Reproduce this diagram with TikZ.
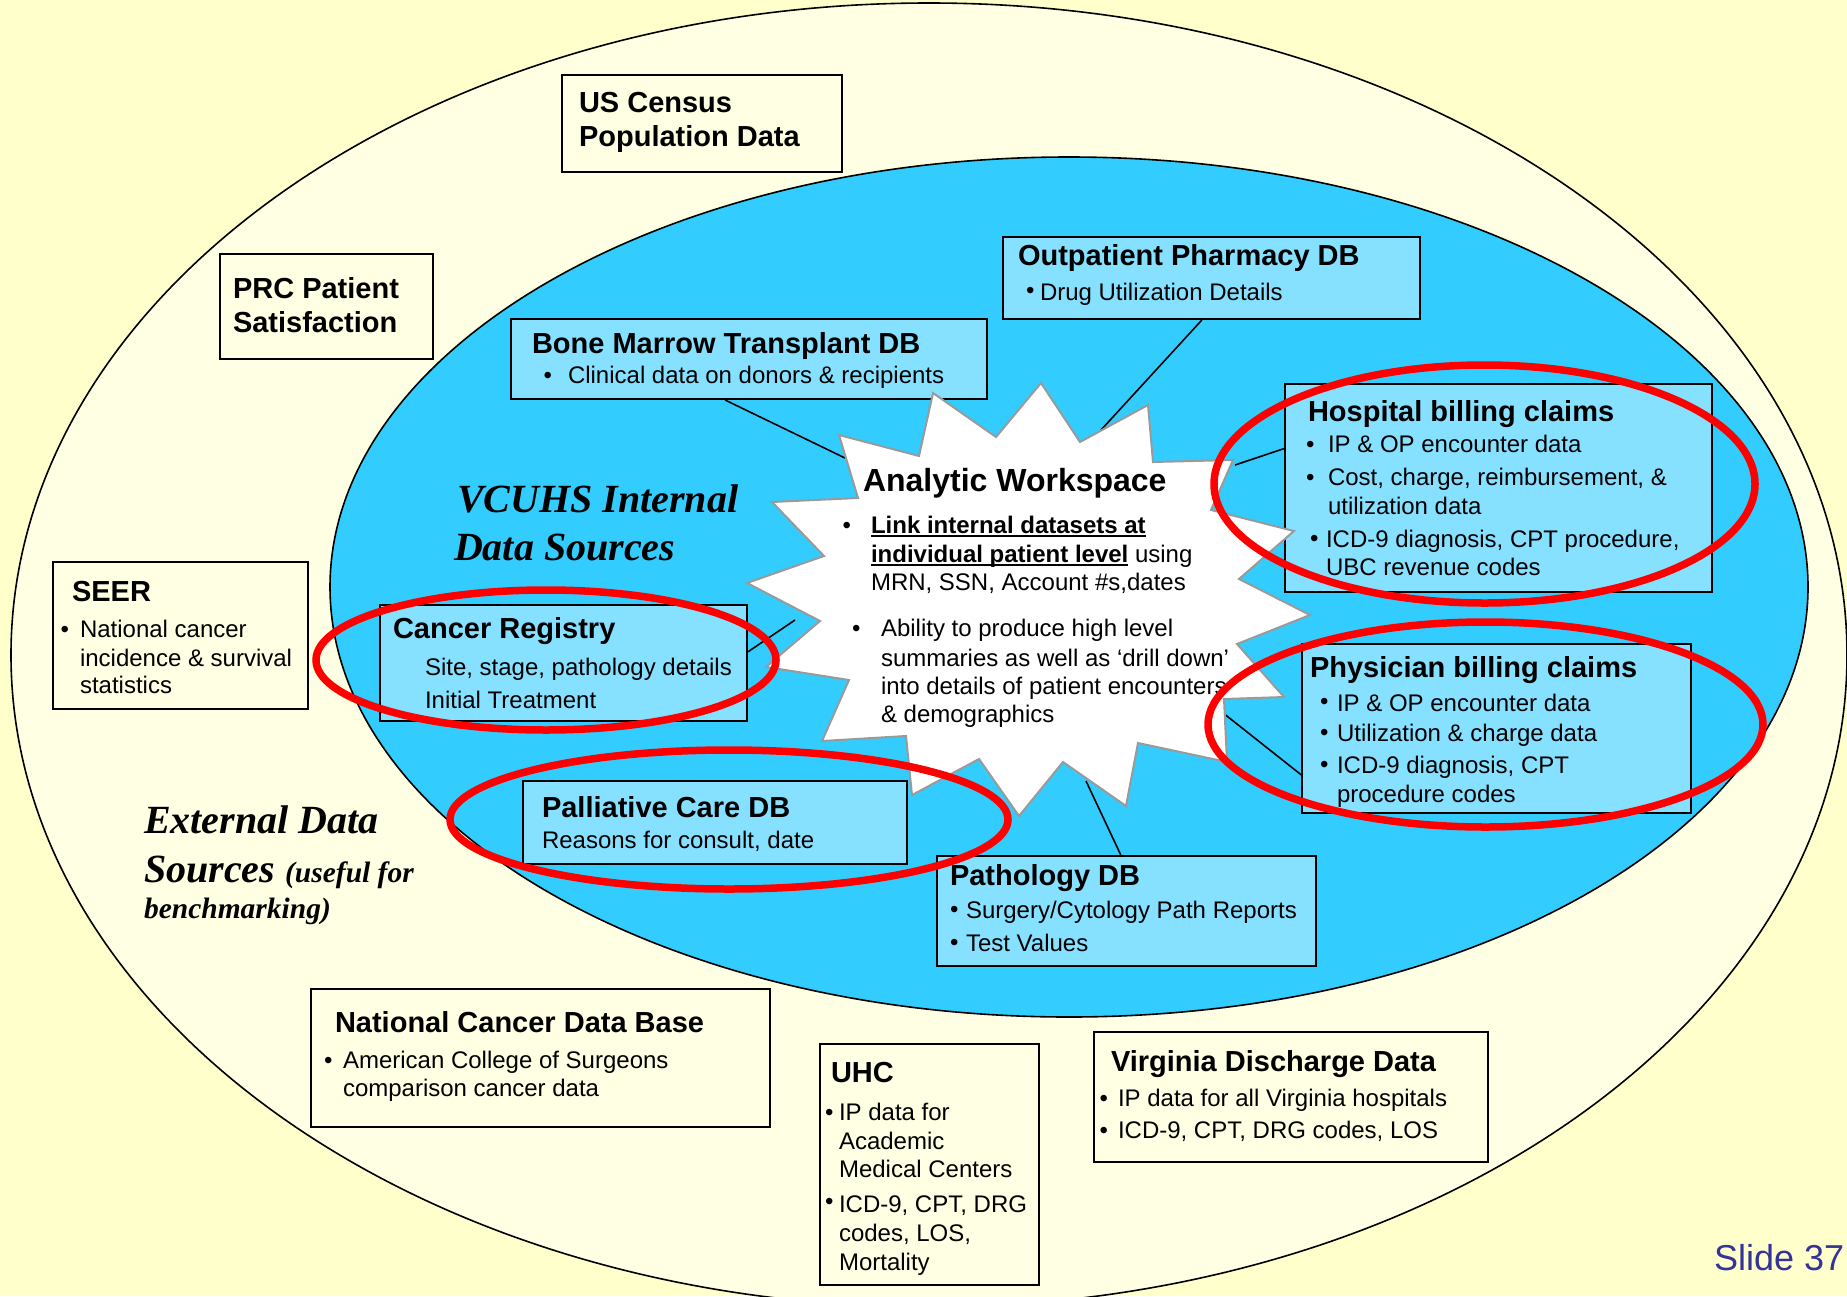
\documentclass[tikz,border=0pt]{standalone}
\usepackage{fontspec}
\setmainfont{Liberation Sans}
\newfontfamily\tnr{Liberation Serif}
\usetikzlibrary{calc}
\definecolor{bgyellow}{HTML}{FFFFCC}
\definecolor{outerfill}{HTML}{FFFFE3}
\definecolor{bluefill}{HTML}{33CCFF}
\definecolor{boxblue}{HTML}{86E0FF}
\definecolor{starline}{HTML}{9A9A9A}
\definecolor{slideblue}{HTML}{333399}
\definecolor{ringred}{HTML}{FF0000}
\newcommand\ttl{\fontsize{29}{34}\selectfont\bfseries}
\newcommand\bdy{\fontsize{24}{28}\selectfont}
\newcommand\ulx[1]{\setbox0\hbox{#1}\rlap{\rule[-3.5pt]{\wd0}{2pt}}\box0}
\tikzset{
  ext/.style={draw=black,line width=2pt,fill=outerfill,inner sep=0pt,anchor=north west},
  intbox/.style={draw=black,line width=2pt,fill=boxblue,inner sep=0pt,anchor=north west},
  lbl/.style={anchor=base west,inner sep=0pt,outer sep=0pt},
  ring/.style={draw=ringred,line width=7.5pt},
  conn/.style={draw=black,line width=1.6pt},
}
\begin{document}
\begin{tikzpicture}[x=1pt,y=-1pt]
\path[use as bounding box] (0,0) rectangle (1847,1296);
\clip (0,0) rectangle (1847,1296);
\fill[bgyellow] (0,0) rectangle (1847,1296);
% outer ellipse
\draw[fill=outerfill,line width=1.6pt] (929,655) ellipse [x radius=918pt, y radius=652pt];
% inner ellipse
\draw[fill=bluefill,line width=1.6pt] (1069,587) ellipse [x radius=739pt, y radius=430pt];

% boxes (internal)
\node[intbox,minimum width=476pt,minimum height=80pt] (bmt) at (510,318) {};
\node[intbox,minimum width=417pt,minimum height=82pt] (opd) at (1002,236) {};
\node[intbox,minimum width=427pt,minimum height=208pt] (hosp) at (1284,383) {};
\node[intbox,minimum width=389pt,minimum height=169pt] (phys) at (1301,643) {};
\node[intbox,minimum width=379pt,minimum height=110pt] (path) at (936,855) {};
\node[intbox,minimum width=384pt,minimum height=83pt] (pall) at (522,780) {};
\node[intbox,minimum width=367pt,minimum height=116pt] (creg) at (379,604) {};

% connector end points at the starburst
\coordinate (sbBmt) at (845,458);
\coordinate (sbOpd) at (1101,430);
\coordinate (sbHosp) at (1235,465);
\coordinate (sbCreg) at (795,620);
\coordinate (sbPhys) at (1218,709);
\coordinate (sbPath) at (1086,781);

\draw[conn] ($(bmt.south west)!0.45!(bmt.south east)$) -- (sbBmt);
\draw[conn] ($(opd.south west)!0.477!(opd.south east)$) -- (sbOpd);
\draw[conn] ($(hosp.north west)!0.3125!(hosp.south west)$) -- (sbHosp);
\draw[conn] ($(creg.north east)!0.405!(creg.south east)$) -- (sbCreg);
\draw[conn] ($(phys.north west)!0.77!(phys.south west)$) -- (sbPhys);
\draw[conn] ($(path.north west)!0.485!(path.north east)$) -- (sbPath);

% starburst
\draw[fill=white,draw=starline,line width=2pt,line join=miter]
 (1041,383) -- (1080,442) -- (1148,405) -- (1153,462) -- (1233,460) -- (1211,510)
 -- (1294,531) -- (1239,579) -- (1310,615) -- (1237,644) -- (1284,697) -- (1224,699)
 -- (1227,762) -- (1138,743) -- (1126,806) -- (1063,762) -- (1019,816) -- (979,759)
 -- (912,795) -- (906,736) -- (822,741) -- (849,680) -- (766,667) -- (820,621)
 -- (747,583) -- (824,556) -- (772,502) -- (858,498) -- (839,435) -- (919,456)
 -- (933,393) -- (996,437) -- cycle;

% external boxes
\node[ext,minimum width=280pt,minimum height=97pt] (census) at (561,74) {};
\node[ext,minimum width=213pt,minimum height=105pt] (prc) at (219,253) {};
\node[ext,minimum width=255pt,minimum height=147pt] (seer) at (52,561) {};
\node[ext,minimum width=459pt,minimum height=138pt] (ncdb) at (310,988) {};
\node[ext,minimum width=219pt,minimum height=241pt] (uhc) at (819,1043) {};
\node[ext,minimum width=394pt,minimum height=130pt] (vdd) at (1093,1031) {};

% texts external
\node[lbl] (censusT1) at (579,112) {\ttl US Census};
\node[lbl] (censusT2) at (579,146) {\ttl Population Data};
\node[lbl] (prcT1) at (233,298) {\ttl PRC Patient};
\node[lbl] (prcT2) at (233,332) {\ttl Satisfaction};
\node[lbl] (seerT) at (72,601) {\ttl SEER};
\node[lbl] (seerB) at (60.5,637) {\bdy •};
\node[lbl] (seerL1) at (80,637) {\bdy National cancer};
\node[lbl] (seerL2) at (80,666) {\bdy incidence \& survival};
\node[lbl] (seerL3) at (80,693) {\bdy statistics};
\node[lbl] (ncdbT) at (335,1032) {\ttl National Cancer Data Base};
\node[lbl] (ncdbB) at (324,1068) {\bdy •};
\node[lbl] (ncdbL1) at (343,1068) {\bdy American College of Surgeons};
\node[lbl] (ncdbL2) at (343,1096) {\bdy comparison cancer data};
\node[lbl] (uhcT) at (831,1082) {\ttl UHC};
\node[lbl] (uhcB1) at (825,1120) {\bdy •};
\node[lbl] (uhcL1) at (839,1120) {\bdy IP data for};
\node[lbl] (uhcL2) at (839,1149) {\bdy Academic};
\node[lbl] (uhcL3) at (839,1177) {\bdy Medical Centers};
\node[lbl] (uhcB2) at (825,1209) {\bdy •};
\node[lbl] (uhcL4) at (839,1212) {\bdy ICD-9, CPT, DRG};
\node[lbl] (uhcL5) at (839,1241) {\bdy codes, LOS,};
\node[lbl] (uhcL6) at (839,1270) {\bdy Mortality};
\node[lbl] (vddT) at (1111,1071) {\ttl Virginia Discharge Data};
\node[lbl] (vddB1) at (1099.5,1106) {\bdy •};
\node[lbl] (vddL1) at (1118,1106) {\bdy IP data for all Virginia hospitals};
\node[lbl] (vddB2) at (1099.5,1138) {\bdy •};
\node[lbl] (vddL2) at (1118,1138) {\bdy ICD-9, CPT, DRG codes, LOS};

% texts internal
\node[lbl] (bmtT) at (532,353) {\ttl Bone Marrow Transplant DB};
\node[lbl] (bmtB) at (543.6,383) {\bdy •};
\node[lbl] (bmtL) at (568,383) {\bdy Clinical data on donors \& recipients};
\node[lbl] (opdT) at (1018,265) {\ttl Outpatient Pharmacy DB};
\node[lbl] (opdB) at (1026,298) {\bdy •};
\node[lbl] (opdL) at (1040,300) {\bdy Drug Utilization Details};
\node[lbl] (hospT) at (1308,421) {\ttl Hospital billing claims};
\node[lbl] (hospB1) at (1306,452) {\bdy •};
\node[lbl] (hospL1) at (1328,452) {\bdy IP \& OP encounter data};
\node[lbl] (hospB2) at (1306,485) {\bdy •};
\node[lbl] (hospL2) at (1328,485) {\bdy Cost, charge, reimbursement, \&};
\node[lbl] (hospL3) at (1328,514) {\bdy utilization data};
\node[lbl] (hospB3) at (1310,546) {\bdy •};
\node[lbl] (hospL4) at (1326,547) {\bdy ICD-9 diagnosis, CPT procedure,};
\node[lbl] (hospL5) at (1326,575) {\bdy UBC revenue codes};
\node[lbl] (physT) at (1310,677) {\ttl Physician billing claims};
\node[lbl] (physB1) at (1320,709) {\bdy •};
\node[lbl] (physL1) at (1337,711) {\bdy IP \& OP encounter data};
\node[lbl] (physB2) at (1320,740) {\bdy •};
\node[lbl] (physL2) at (1337,741) {\bdy Utilization \& charge data};
\node[lbl] (physB3) at (1320,772) {\bdy •};
\node[lbl] (physL3) at (1337,773) {\bdy ICD-9 diagnosis, CPT};
\node[lbl] (physL4) at (1337,802) {\bdy procedure codes};
\node[lbl] (pathT) at (950,885) {\ttl Pathology DB};
\node[lbl] (pathB1) at (950,917) {\bdy •};
\node[lbl] (pathL1) at (966,918) {\bdy Surgery/Cytology Path Reports};
\node[lbl] (pathB2) at (950,950) {\bdy •};
\node[lbl] (pathL2) at (966,951) {\bdy Test Values};
\node[lbl] (pallT) at (542,817) {\ttl Palliative Care DB};
\node[lbl] (pallL) at (542,848) {\bdy Reasons for consult, date};
\node[lbl] (cregT) at (393,638) {\ttl Cancer Registry};
\node[lbl] (cregL1) at (425,675) {\bdy Site, stage, pathology details};
\node[lbl] (cregL2) at (425,708) {\bdy Initial Treatment};

% analytic workspace
\node[lbl] (awT) at (863,491) {\fontsize{32}{36}\selectfont\bfseries Analytic Workspace};
\node[lbl] (awB1) at (842.5,533) {\bdy •};
\node[lbl] (awL1) at (871,533) {\bdy\bfseries \ulx{Link internal datasets at}};
\node[lbl] (awL2) at (871,562) {\bdy {\bfseries\ulx{individual patient level}} using};
\node[lbl] (awL3) at (871,590) {\bdy MRN, SSN, Account \#s,dates};
\node[lbl] (awB2) at (852,636) {\bdy •};
\node[lbl] (awL4) at (881,636) {\bdy Ability to produce high level};
\node[lbl] (awL5) at (881,666) {\bdy summaries as well as ‘drill down’};
\node[lbl] (awL6) at (881,694) {\bdy into details of patient encounters};
\node[lbl] (awL7) at (881,722) {\bdy \& demographics};

% section labels
\node[lbl] (vcu1) at (457,512) {\tnr\bfseries\itshape\fontsize{40}{44}\selectfont VCUHS Internal};
\node[lbl] (vcu2) at (454,560) {\tnr\bfseries\itshape\fontsize{40}{44}\selectfont Data Sources};
\node[lbl] (ext1) at (144,833) {\tnr\bfseries\itshape\fontsize{40}{44}\selectfont External Data};
\node[lbl] (ext2) at (144,882) {\tnr\bfseries\itshape\fontsize{40}{44}\selectfont Sources {\fontsize{29.5}{34}\selectfont (useful for}};
\node[lbl] (ext3) at (144,918) {\tnr\bfseries\itshape\fontsize{29.5}{34}\selectfont benchmarking)};

% red rings
\draw[ring] (1484.5,484) ellipse [x radius=270.5pt, y radius=119pt];
\draw[ring] (1485.5,724.5) ellipse [x radius=277.5pt, y radius=102.5pt];
\draw[ring] (546,660) ellipse [x radius=230pt, y radius=70pt];
\draw[ring] (729,819.5) ellipse [x radius=279pt, y radius=69.5pt];

% slide number
\node[lbl,text=slideblue] (slide) at (1714,1270) {\fontsize{36}{40}\selectfont Slide 37};
\end{tikzpicture}
\end{document}
